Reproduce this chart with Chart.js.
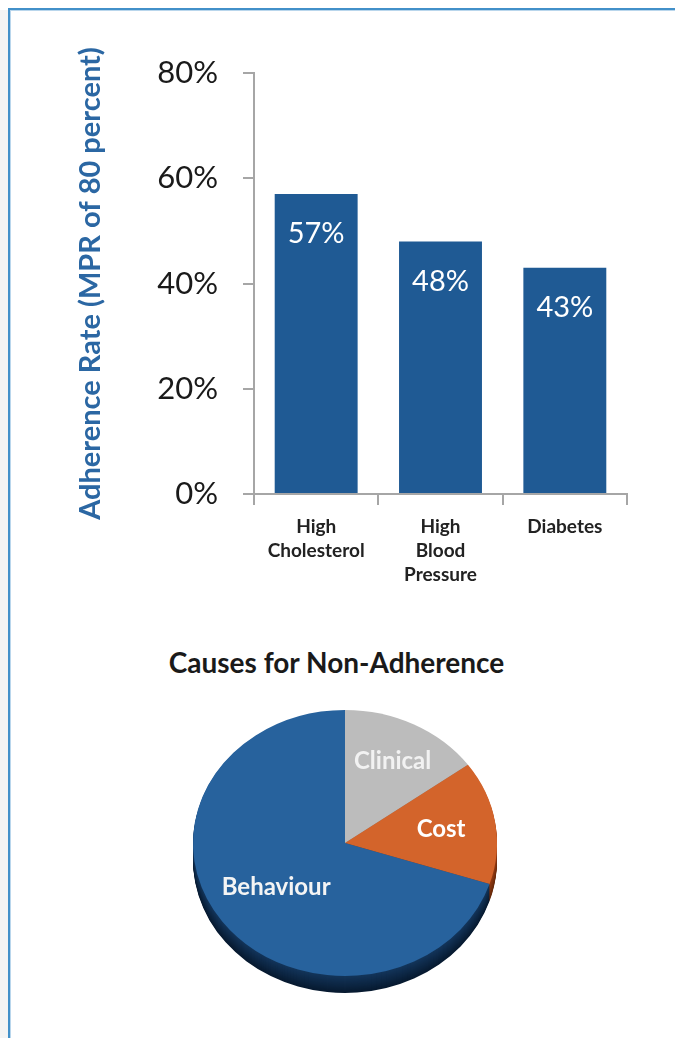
<!DOCTYPE html>
<html>
<head>
<meta charset="utf-8">
<title>Medication adherence</title>
<script src="https://cdn.jsdelivr.net/npm/chart.js@4.4.1/dist/chart.umd.min.js"></script>
<style>
  html, body { margin: 0; padding: 0; background: #fff; }
  body { width: 675px; height: 1038px; position: relative; overflow: hidden; }
  .gutter { position: absolute; left: 0; top: 10px; width: 8px; bottom: 0; background: #f4f4f4; }
  .frame {
    position: absolute; left: 8px; top: 8px; right: -10px; bottom: -10px;
    border-top: 2px solid #4290c9; border-left: 2px solid #4290c9;
    box-shadow: inset 1px 1px 0 #b9d6ec;
  }
  #barChart { position: absolute; left: 0; top: 0; }
  #pieChart { position: absolute; left: 0; top: 600px; }
  .pie-title {
    position: absolute; left: 0; top: 645px; width: 673px;
    text-align: center; font: bold 28px Lato, sans-serif; line-height: 34px; color: #1a1a1a;
  }
</style>
</head>
<body>
<div class="gutter"></div>
<div class="frame"></div>
<canvas id="barChart" width="675" height="610"></canvas>
<div class="pie-title">Causes for Non-Adherence</div>
<canvas id="pieChart" width="675" height="420"></canvas>

<script>
// Adherence by condition
const conditions = [["High", "Cholesterol"], ["High", "Blood", "Pressure"], ["Diabetes"]];
const adherence = [57, 48, 43];
const yTicks = [0, 20, 40, 60, 80];

// Causes for non-adherence (share of total, %)
const causes = ["Clinical", "Cost", "Behaviour"];
const causeShares = [15, 15, 70];

Chart.defaults.font.family = "Lato, sans-serif";

const BAR_BLUE = "#1f5a94";
const AXIS_GREY = "#a6a6a6";

// White value labels just inside the top of each bar
const barValueLabels = {
  id: "barValueLabels",
  afterDatasetsDraw(chart) {
    const { ctx } = chart;
    const meta = chart.getDatasetMeta(0);
    ctx.save();
    ctx.font = "29px Lato, sans-serif";
    ctx.fillStyle = "#ffffff";
    ctx.textAlign = "center";
    ctx.textBaseline = "middle";
    meta.data.forEach((bar, i) => {
      ctx.fillText(adherence[i] + "%", bar.x, bar.y + 40);
    });
    ctx.restore();
  },
};

new Chart(document.getElementById("barChart"), {
  type: "bar",
  data: {
    labels: conditions,
    datasets: [
      {
        data: adherence,
        backgroundColor: BAR_BLUE,
        borderWidth: 0,
        barPercentage: 0.667,
        categoryPercentage: 1,
      },
    ],
  },
  options: {
    responsive: false,
    animation: false,
    events: [],
    layout: {
      padding: { left: 0, top: 73, right: 48, bottom: 0 },
    },
    plugins: {
      legend: { display: false },
      tooltip: { enabled: false },
    },
    scales: {
      x: {
        offset: true,
        afterFit: (scale) => {
          scale.height = 116;
        },
        grid: {
          offset: true,
          drawOnChartArea: false,
          tickLength: 11,
          color: AXIS_GREY,
          lineWidth: 2,
        },
        border: { color: AXIS_GREY, width: 2 },
        ticks: {
          color: "#222222",
          font: { size: 19, weight: "bold", lineHeight: "24px" },
          padding: 10,
          maxRotation: 0,
          autoSkip: false,
        },
      },
      y: {
        min: 0,
        max: 80,
        afterBuildTicks: (scale) => {
          scale.ticks = yTicks.map((v) => ({ value: v }));
        },
        afterFit: (scale) => {
          scale.width = 254;
        },
        grid: {
          drawOnChartArea: false,
          tickLength: 11,
          color: AXIS_GREY,
          lineWidth: 2,
        },
        border: { color: AXIS_GREY, width: 2 },
        ticks: {
          color: "#1a1a1a",
          font: { size: 31 },
          padding: 25,
          callback: (v) => v + "%",
        },
        title: {
          display: true,
          text: "Adherence Rate (MPR of 80 percent)",
          color: "#2b67a3",
          font: { size: 29, weight: "bold" },
          padding: { top: 73, bottom: 0 },
        },
      },
    },
  },
  plugins: [barValueLabels],
});

// Pie drawn flattened with an extruded side wall for a 3-D look
const TILT = 0.875;
const DEPTH = 17;
const pieColors = ["#bcbcbc", "#d3642b", "#27629d"];
const sideTop = [[140, 140, 140], [150, 60, 20], [20, 54, 92]];
const sideBottom = [[95, 95, 95], [100, 40, 10], [7, 26, 48]];
const labelColors = ["#f2f2f2", "#ffffff", "#f4f4f4"];
const labelRadius = [0.69, 0.64, 0.56];

function mix(a, b, t) {
  const c = a.map((v, k) => Math.round(v + (b[k] - v) * t));
  return "rgb(" + c.join(",") + ")";
}

const tiltedPie = {
  id: "tiltedPie",
  beforeDatasetsDraw(chart) {
    const { ctx } = chart;
    const arcs = chart.getDatasetMeta(0).data;
    const cx = arcs[0].x;
    const cy = arcs[0].y;
    ctx.save();
    ctx.translate(cx, cy);
    ctx.scale(1, TILT);
    ctx.translate(-cx, -cy);
    for (let d = DEPTH; d >= 1; d--) {
      const t = d / DEPTH;
      arcs.forEach((arc, i) => {
        const oy = cy + d / TILT;
        ctx.beginPath();
        ctx.moveTo(cx, oy);
        ctx.arc(cx, oy, arc.outerRadius, arc.startAngle, arc.endAngle);
        ctx.closePath();
        ctx.fillStyle = mix(sideTop[i], sideBottom[i], t);
        ctx.fill();
      });
    }
  },
  afterDatasetsDraw(chart) {
    const { ctx } = chart;
    ctx.restore();
    const arcs = chart.getDatasetMeta(0).data;
    ctx.save();
    ctx.font = "bold 24px Lato, sans-serif";
    ctx.textAlign = "center";
    ctx.textBaseline = "middle";
    arcs.forEach((arc, i) => {
      const mid = (arc.startAngle + arc.endAngle) / 2;
      const r = arc.outerRadius * labelRadius[i];
      const x = arc.x + Math.cos(mid) * r;
      const y = arc.y + Math.sin(mid) * r * TILT;
      ctx.fillStyle = labelColors[i];
      ctx.fillText(causes[i], x, y);
    });
    ctx.restore();
  },
};

new Chart(document.getElementById("pieChart"), {
  type: "pie",
  data: {
    labels: causes,
    datasets: [
      {
        data: causeShares,
        backgroundColor: pieColors,
        borderWidth: 0,
      },
    ],
  },
  options: {
    responsive: false,
    animation: false,
    events: [],
    layout: {
      padding: { left: 193, right: 178, top: 91, bottom: 25 },
    },
    plugins: {
      legend: { display: false },
      tooltip: { enabled: false },
    },
  },
  plugins: [tiltedPie],
});
</script>
</body>
</html>
